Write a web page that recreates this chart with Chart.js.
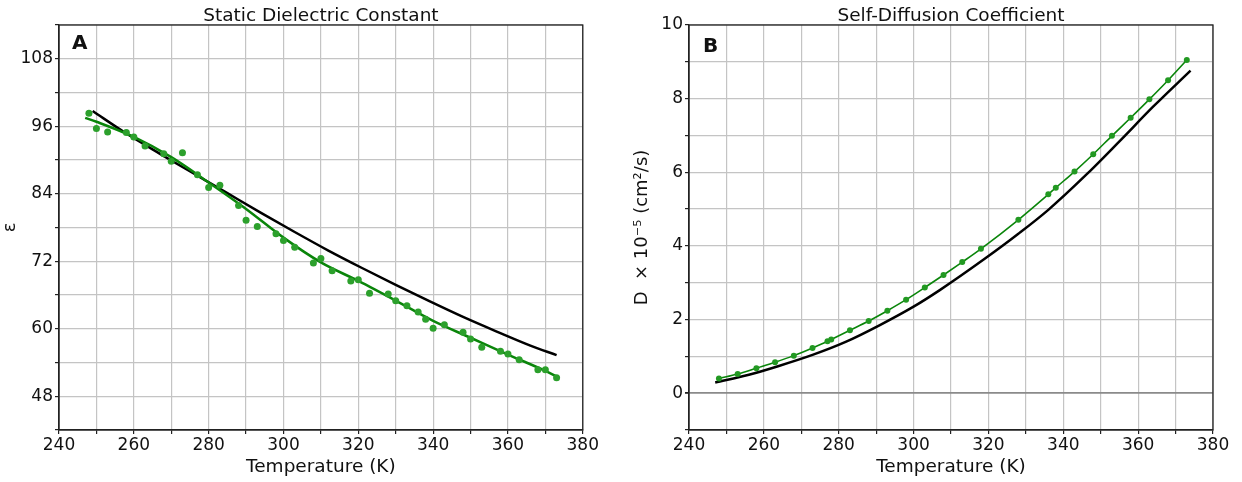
<!DOCTYPE html>
<html>
<head>
<meta charset="utf-8">
<script src="https://cdn.jsdelivr.net/npm/chart.js@4.4.0/dist/chart.umd.min.js"></script>
<style>
  body { margin: 0; background: #fff; }
  #wrapA { position: absolute; left: 0; top: 0; }
  #wrapB { position: absolute; left: 620px; top: 0; }
</style>
</head>
<body>
<div id="wrapA"><canvas id="chartA" width="600" height="482"></canvas></div>
<div id="wrapB"><canvas id="chartB" width="622" height="482"></canvas></div>
<script>
// panel A: static dielectric constant, simulated points
const tempA = [248,250,253,258,260,263,268,270,273,277,280,283,288,290,293,298,300,303,308,310,313,318,320,323,328,330,333,336,338,340,343,348,350,353,358,360,363,368,370,373];
const epsA = [98.3,95.6,95.0,94.9,94.1,92.5,91.1,89.8,91.3,87.4,85.1,85.5,81.9,79.3,78.2,76.9,75.7,74.5,71.7,72.5,70.3,68.5,68.7,66.3,66.2,65.0,64.1,63.0,61.7,60.1,60.7,59.4,58.2,56.7,56.0,55.5,54.5,52.7,52.7,51.3];
// fitted curve through the points
const fitTempA = [247,250,260,270,280,290,300,310,320,330,340,350,360,370,373];
const fitEpsA = [97.5,96.8,94.1,90.5,86.0,81.3,76.2,71.8,68.5,65.0,61.4,58.4,55.4,52.5,51.5];
// experimental curve
const expTempA = [249,258,267,276,285,294,303,312,321,330,339,348,357,366,373];
const expEpsA = [98.7,94.7,91.1,87.6,84.1,80.6,77.2,73.9,70.8,67.8,64.9,62.1,59.5,57.0,55.3];

// panel B: self-diffusion coefficient
const tempB = [248,253,258,263,268,273,277,278,283,288,293,298,303,308,313,318,328,336,338,343,348,353,358,363,368,373];
const diffB = [0.40,0.52,0.68,0.84,1.02,1.23,1.41,1.46,1.71,1.96,2.24,2.54,2.87,3.21,3.56,3.92,4.71,5.40,5.58,6.02,6.49,6.99,7.48,7.98,8.50,9.05];
const expTempB = [247,256,264,273,282,291,300,307,319,328,336,346,355,364,374];
const expDiffB = [0.29,0.50,0.74,1.04,1.40,1.85,2.35,2.80,3.65,4.33,4.98,5.92,6.84,7.78,8.76];

const xTicks = { min: 240, max: 380, step: 10, every: 20 };

Chart.defaults.font.family = '"DejaVu Sans", sans-serif';
Chart.defaults.color = '#111';

function pts(xs, ys) {
  return xs.map(function(x, i) { return { x: x, y: ys[i] }; });
}

// title above the plot, panel letter and the box round the plot area
const panelText = {
  id: 'panelText',
  afterDraw(chart, args, opts) {
    const ctx = chart.ctx, a = chart.chartArea;
    ctx.save();
    ctx.strokeStyle = '#222';
    ctx.lineWidth = 1.3;
    ctx.strokeRect(a.left, a.top, a.right - a.left, a.bottom - a.top);
    ctx.fillStyle = '#111';
    ctx.textBaseline = 'alphabetic';
    ctx.textAlign = 'center';
    ctx.font = '18.5px "DejaVu Sans"';
    ctx.fillText(opts.title, (a.left + a.right) / 2, 20.5);
    ctx.textAlign = 'left';
    ctx.font = 'bold 20px "DejaVu Sans"';
    ctx.fillText(opts.letter, a.left + opts.dx, a.top + opts.dy);
    ctx.restore();
  }
};

function gridOpts(zeroLine) {
  return {
    color: function(c) { return (zeroLine && c.tick && c.tick.value === 0) ? '#8a8a8a' : '#c4c4c4'; },
    lineWidth: function(c) { return (zeroLine && c.tick && c.tick.value === 0) ? 1.8 : 1.2; },
    tickColor: '#222',
    tickLength: 4
  };
}

function xScale() {
  return {
    type: 'linear',
    min: xTicks.min,
    max: xTicks.max,
    border: { color: '#222', width: 1.3 },
    grid: gridOpts(false),
    ticks: {
      stepSize: xTicks.step,
      autoSkip: false,
      maxRotation: 0,
      padding: 1,
      font: { size: 17 },
      callback: function(v) { return v % xTicks.every === 0 ? v : ''; }
    },
    title: { display: true, text: 'Temperature (K)', font: { size: 18.5 }, padding: { top: 0, bottom: 4 } },
    afterFit: function(s) { s.height = 52; }
  };
}

function makeChart(id, cfg) {
  return new Chart(document.getElementById(id).getContext('2d'), {
    type: 'scatter',
    data: { datasets: cfg.datasets },
    options: {
      responsive: false,
      animation: false,
      layout: { padding: cfg.padding },
      plugins: {
        legend: { display: false },
        tooltip: { enabled: false },
        panelText: cfg.text
      },
      scales: {
        x: xScale(),
        y: cfg.y
      }
    },
    plugins: [panelText]
  });
}

makeChart('chartA', {
  padding: { top: 25, right: 16, left: 0, bottom: 0 },
  text: { title: 'Static Dielectric Constant', letter: 'A', dx: 13, dy: 24 },
  datasets: [
    { data: pts(tempA, epsA), pointRadius: 3.5, pointBackgroundColor: '#2ca02c', pointBorderWidth: 0, showLine: false },
    { data: pts(fitTempA, fitEpsA), borderColor: '#0a850a', borderWidth: 2.5, pointRadius: 0, showLine: true, cubicInterpolationMode: 'monotone' },
    { data: pts(expTempA, expEpsA), borderColor: '#000', borderWidth: 2.5, pointRadius: 0, showLine: true, cubicInterpolationMode: 'monotone' }
  ],
  y: {
    type: 'linear',
    min: 42,
    max: 114,
    border: { color: '#222', width: 1.3 },
    grid: gridOpts(false),
    ticks: {
      stepSize: 6,
      padding: 2,
      font: { size: 17 },
      callback: function(v) { return (v - 48) % 12 === 0 ? v : ''; }
    },
    title: { display: true, text: 'ε', font: { size: 18 }, padding: { top: 0, bottom: 0 } },
    afterFit: function(s) { s.width = 59; }
  }
});

makeChart('chartB', {
  padding: { top: 25, right: 29, left: 0, bottom: 0 },
  text: { title: 'Self-Diffusion Coefficient', letter: 'B', dx: 14, dy: 27 },
  datasets: [
    { data: pts(tempB, diffB), borderColor: '#0a850a', borderWidth: 1.6, pointRadius: 3, pointBackgroundColor: '#229922', pointBorderWidth: 0, showLine: true, cubicInterpolationMode: 'monotone' },
    { data: pts(expTempB, expDiffB), borderColor: '#000', borderWidth: 2.5, pointRadius: 0, showLine: true, cubicInterpolationMode: 'monotone' }
  ],
  y: {
    type: 'linear',
    min: -1,
    max: 10,
    border: { color: '#222', width: 1.3 },
    grid: gridOpts(true),
    ticks: {
      stepSize: 1,
      padding: 2,
      font: { size: 17 },
      callback: function(v) { return (v >= 0 && v % 2 === 0) ? v : ''; }
    },
    title: { display: true, text: 'D  × 10⁻⁵ (cm²/s)', font: { size: 18 }, padding: { top: 12, bottom: 0 } },
    afterFit: function(s) { s.width = 69; }
  }
});
</script>
</body>
</html>
